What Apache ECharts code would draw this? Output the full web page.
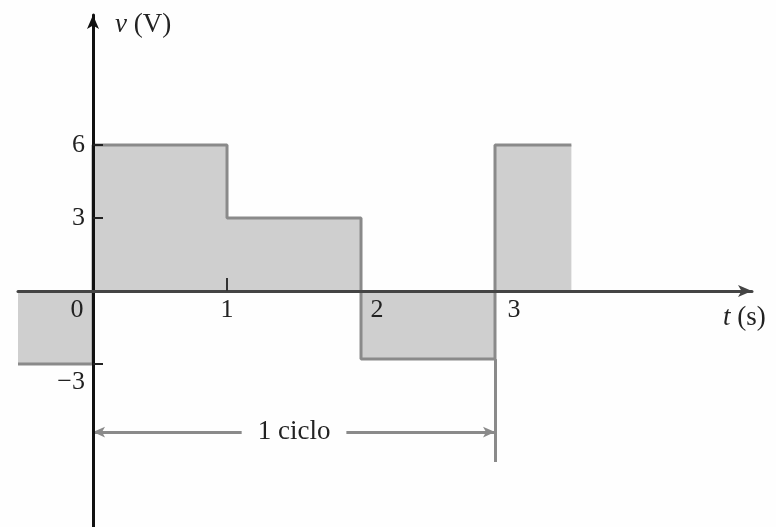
<!DOCTYPE html>
<html>
<head>
<meta charset="utf-8">
<script src="https://cdn.jsdelivr.net/npm/echarts@6/dist/echarts.min.js"></script>
<style>
html,body{margin:0;padding:0;background:#fefefe;}
#chart{width:776px;height:527px;}
</style>
</head>
<body>
<div id="chart"></div>
<script>
// ---- data ----
const breakTimes = [-0.56, 0, 1, 2, 3, 3.57];   // t (s) where each level starts / last ends
const levels = [-3, 6, 3, -2.8, 6];              // v (V)
const xTickValues = [0, 1, 2, 3];
const xTickLabels = ['0', '1', '2', '3'];
const yTickValues = [-3, 3, 6];
const yTickLabels = ['−3', '3', '6'];
const cycleStart = 0, cycleEnd = 3, cycleLevel = -5.8, cycleMarkerBottom = -7.03;
const cycleText = '1 ciclo';

// ---- build ----
const wave = levels.map((v, i) => [breakTimes[i], v]);
wave.push([breakTimes[breakTimes.length - 1], levels[levels.length - 1]]);

const font = '"Liberation Serif", "DejaVu Serif", serif';
const xRich = {
  l: { padding: [0, 32, 0, 0], fontSize: 26, fontFamily: font, color: '#222' },
  c: { fontSize: 26, fontFamily: font, color: '#222' },
  r: { padding: [0, 0, 0, 32], fontSize: 26, fontFamily: font, color: '#222' },
  r3: { padding: [0, 0, 0, 38], fontSize: 26, fontFamily: font, color: '#222' }
};
const xStyle = ['l', 'c', 'r', 'r3'];

const chart = echarts.init(document.getElementById('chart'), null, { renderer: 'canvas' });
chart.setOption({
  backgroundColor: '#fefefe',
  animation: false,
  grid: { left: 18, right: 24, top: 15, bottom: 0, containLabel: false, outerBoundsMode: 'none' },
  xAxis: {
    type: 'value', min: -0.56, max: 4.918, z: 5, position: 'bottom', offset: -236,
    splitLine: { show: false },
    axisLine: { onZero: false, lineStyle: { color: '#444', width: 3 }, symbol: ['none', 'arrow'], symbolSize: [9, 14] },
    axisTick: { show: true, inside: true, length: 13, customValues: [1], lineStyle: { color: '#333', width: 2 } },
    axisLabel: {
      customValues: xTickValues, margin: 6,
      formatter: v => { const i = xTickValues.indexOf(v); return '{' + xStyle[i] + '|' + xTickLabels[i] + '}'; },
      rich: xRich
    },
    name: '{i|t} (s)', nameLocation: 'end', nameGap: -29,
    nameTextStyle: { fontSize: 27, fontFamily: font, color: '#222', padding: [54, 0, 0, 0], rich: { i: { fontStyle: 'italic', fontSize: 27, fontFamily: font, color: '#222' } } }
  },
  yAxis: {
    type: 'value', min: -9.70, max: 11.34, z: 5, position: 'left', offset: -75,
    splitLine: { show: false },
    axisLine: { onZero: false, lineStyle: { color: '#111', width: 3 }, symbol: ['none', 'arrow'], symbolSize: [9, 14] },
    axisTick: { show: true, inside: true, length: 10, customValues: yTickValues, lineStyle: { color: '#222', width: 2 } },
    axisLabel: {
      customValues: yTickValues, margin: 8,
      formatter: v => { const i = yTickValues.indexOf(v); return v < 0 ? '{d|' + yTickLabels[i] + '}' : '{n|' + yTickLabels[i] + '}'; },
      rich: {
        n: { fontSize: 26, fontFamily: font, color: '#222' },
        d: { fontSize: 26, fontFamily: font, color: '#222', padding: [36, 0, 0, 0] }
      }
    },
    name: '{i|v} (V)', nameLocation: 'end', nameGap: -10,
    nameTextStyle: { align: 'left', verticalAlign: 'middle', fontSize: 27, fontFamily: font, color: '#222', padding: [0, 0, 0, 22], rich: { i: { fontStyle: 'italic', fontSize: 27, fontFamily: font, color: '#222' } } }
  },
  series: [
    {
      type: 'line', step: 'end', data: wave, symbol: 'none', z: 2,
      lineStyle: { color: '#8a8a8a', width: 3 },
      areaStyle: { color: '#cfcfcf', opacity: 1, origin: 0 }
    },
    {
      type: 'line', data: [], symbol: 'none', z: 3,
      markLine: {
        silent: true, animation: false,
        data: [
          [
            { coord: [cycleStart, cycleLevel], symbol: 'arrow', symbolSize: [8, 12], symbolRotate: 90 },
            { coord: [cycleEnd, cycleLevel], symbol: 'arrow', symbolSize: [8, 12] }
          ],
          [
            { coord: [cycleEnd, levels[3]], symbol: 'none' },
            { coord: [cycleEnd, cycleMarkerBottom], symbol: 'none', label: { show: false } }
          ]
        ],
        lineStyle: { color: '#8a8a8a', width: 3, type: 'solid' },
        itemStyle: { color: '#111' },
        label: {
          show: true, position: 'insideMiddle', formatter: cycleText,
          fontSize: 27, fontFamily: font, color: '#222',
          backgroundColor: '#fefefe', padding: [4, 16, 0, 16]
        }
      }
    }
  ]
});
</script>
</body>
</html>
